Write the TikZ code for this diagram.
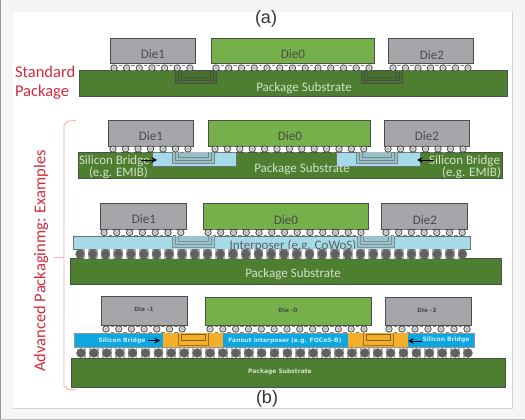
\documentclass[tikz,border=0pt]{standalone}
\usepackage{fontspec}
\setmainfont{Carlito}
\newfontfamily\smallsans{DejaVu Sans}
\newfontfamily\capfont{Liberation Sans}
\usetikzlibrary{arrows.meta}
\definecolor{diegray}{HTML}{A6A6AA}
\definecolor{diegreen}{HTML}{76B04B}
\definecolor{subgreen}{HTML}{4E7F30}
\definecolor{edgedark}{HTML}{4A4F4A}
\definecolor{interblue}{HTML}{A6DAE8}
\definecolor{bridgeblue}{HTML}{0CA6E0}
\definecolor{fanorange}{HTML}{F5AE2B}
\definecolor{labelred}{HTML}{D22B3F}
\definecolor{bracketred}{HTML}{F4B2A8}
\definecolor{sublabel}{HTML}{D3E0CB}
\definecolor{dielabel}{HTML}{4B4B4B}
\tikzset{
  px/.style={inner sep=0pt,outer sep=0pt},
  diebox/.style={draw=edgedark,line width=1pt},
  diegrey/.style={diebox,fill=diegray},
  diegrn/.style={diebox,fill=diegreen},
  subbox/.style={draw=edgedark,line width=1pt,fill=subgreen},
  interbox/.style={draw=edgedark!80,line width=0.9pt,fill=interblue},
  dietext/.style={px,text=dielabel,font=\fontsize{13}{14}\selectfont},
  subtext/.style={px,text=sublabel,font=\fontsize{13}{14}\selectfont},
  bridgetext/.style={px,text=sublabel,font=\fontsize{13}{13}\selectfont},
  redtext/.style={px,text=labelred,font=\fontsize{16.5}{18}\selectfont},
  advtext/.style={px,text=labelred,font=\fontsize{16.5}{18}\selectfont},
  captext/.style={px,text=black!80,font=\capfont\fontsize{18}{20}\selectfont},
  tinydie/.style={px,text=dielabel,font=\smallsans\bfseries\fontsize{5.8}{7}\selectfont},
  tinywhite/.style={px,text=white!80!bridgeblue,font=\smallsans\bfseries\fontsize{6}{7}\selectfont},
  tinysub/.style={px,text=sublabel,font=\smallsans\bfseries\fontsize{6}{7}\selectfont},
  blackarrow/.style={-{Stealth[length=5.5pt,width=5.5pt]},line width=0.9pt,black},
}
% filled rectangle from corners: name, style, x1,y1,x2,y2
\newcommand\boxat[6]{\path[#2] (#3,#4) rectangle (#5,#6); \coordinate (#1) at ({(#3+#5)/2},{(#4+#6)/2});}
% small bumps: x1, step, count, y
\newcommand\smallbumps[4]{%
  \pgfmathtruncatemacro\lastb{#3-1}%
  \foreach \i in {0,...,\lastb}{%
    \pgfmathsetmacro\xx{#1+\i*#2}%
    \draw[edgedark,line width=0.8pt,fill=white!85!black] (\xx,#4) circle (3.2pt);
    \fill[gray!60] (\xx,#4) circle (1.3pt);
    \ifnum\i<\lastb
      \fill[edgedark!70] ({\xx+#2/2-1.8},{#4-3.4}) rectangle ({\xx+#2/2+1.8},{#4-2.5});
      \fill[edgedark!70] ({\xx+#2/2-1.8},{#4+2.5}) rectangle ({\xx+#2/2+1.8},{#4+3.4});
    \fi
  }}
% big bumps: x1, step, count, y
\newcommand\bigbumps[4]{%
  \pgfmathtruncatemacro\lastb{#3-1}%
  \foreach \i in {0,...,\lastb}{%
    \pgfmathsetmacro\xx{#1+\i*#2}%
    \ifnum\i<\lastb
      \fill[gray!60] ({\xx+#2/2-3.5},{#4-4.6}) rectangle ({\xx+#2/2+3.5},{#4+4.6});
      \fill[white] ({\xx+#2/2-1.6},{#4-4.6}) rectangle ({\xx+#2/2+1.6},{#4+4.6});
    \fi
    \draw[edgedark!80,line width=0.6pt,fill=gray!75!black] (\xx,#4) circle (4.4pt);
  }}
% nested U routing: x1,x2,ytop,ybot,line colour,fill colour
\newcommand\routing[6]{%
  \fill[#6] (#1,#3) rectangle (#2,#4);
  \foreach \d in {0,3,6}{%
    \draw[#5,line width=0.7pt] ({#1+\d},#3) -- ({#1+\d},{#4-\d}) -- ({#2-\d},{#4-\d}) -- ({#2-\d},#3);
  }}
\begin{document}
\begin{tikzpicture}[x=1pt,y=-1pt]
\useasboundingbox (0,0) rectangle (525,420);
% page and panel
\fill[white!96!black] (0,0) rectangle (525,420);
\fill[white] (13,12) rectangle (512,408);
\draw[gray!35,line width=0.6pt] (13,408) -- (512,408) -- (512,12);
\fill[gray!80] (0,0) rectangle (1.2,420);
\fill[gray!50] (0,418.8) rectangle (525,420);
\node[captext] (capa) at (266,19) {(a)};
\node[captext] (capb) at (267,399) {(b)};
% ---- row a
\boxat{aDieOne}{diegrey}{110}{39}{195}{64}
\boxat{aDieZero}{diegrn}{211}{39}{374}{64}
\boxat{aDieTwo}{diegrey}{388}{39}{473}{64}
\boxat{aSub}{subbox}{79}{71}{507}{97}
\routing{175}{216}{71}{83}{edgedark}{subgreen!90!black}
\routing{361}{402}{71}{83}{edgedark}{subgreen!90!black}
\smallbumps{114}{12.65}{7}{68}
\smallbumps{216}{12.75}{13}{68}
\smallbumps{393}{12.5}{7}{68}
\node[dietext] (a1) at (153,54) {Die1};
\node[dietext] (a0) at (293,54) {Die0};
\node[dietext] (a2) at (432,55) {Die2};
\node[subtext] (asubt) at (304,88) {Package Substrate};
\node[redtext,anchor=west] (std) at (15,72) {Standard};
\node[redtext,anchor=west] (pkg) at (15,92) {Package};
% ---- row b1
\boxat{bDieOne}{diegrey}{108}{120}{193}{146}
\boxat{bDieZero}{diegrn}{208}{120}{370}{146}
\boxat{bDieTwo}{diegrey}{384}{120}{469}{146}
\boxat{bSub}{subbox}{78}{152}{502}{178}
\boxat{bBrL}{interbox}{152}{152}{236}{166}
\boxat{bBrR}{interbox}{336}{152}{420}{166}
\routing{172}{214}{152}{163}{edgedark!60!interblue}{interblue!70!gray}
\routing{356}{397}{152}{163}{edgedark!60!interblue}{interblue!70!gray}
\smallbumps{113}{12.5}{7}{149}
\smallbumps{215}{12.4}{13}{149}
\smallbumps{388}{12.5}{7}{149}
\node[dietext] (b1) at (151,136) {Die1};
\node[dietext] (b0) at (290,136) {Die0};
\node[dietext] (b2) at (427,136) {Die2};
\node[subtext] (bsubt) at (302,169) {Package Substrate};
\node[bridgetext,anchor=west] (bsl) at (79,161) {Silicon Bridge};
\node[bridgetext,anchor=west] (bel) at (89,173) {(e.g. EMIB)};
\node[bridgetext,anchor=east] (bsr) at (500,161) {Silicon Bridge};
\node[bridgetext,anchor=east] (ber) at (501,173) {(e.g. EMIB)};
\coordinate (btl) at (141,160); \coordinate (hl) at (157,160);
\coordinate (btr) at (434,160); \coordinate (hr) at (417,160);
\draw[blackarrow] (btl) -- (hl);
\draw[blackarrow] (btr) -- (hr);
% ---- row b2
\boxat{cDieOne}{diegrey}{100}{203}{186}{229}
\boxat{cDieZero}{diegrn}{203}{203}{368}{229}
\boxat{cDieTwo}{diegrey}{381}{203}{467}{229}
\boxat{cSub}{subbox}{70}{258}{501}{284}
\boxat{cInt}{interbox}{73}{236}{470}{249}
\routing{172}{214}{236}{247}{edgedark!50!interblue}{interblue!75!gray}
\routing{357}{394}{236}{247}{edgedark!50!interblue}{interblue!75!gray}
\node[px,text=dielabel!85!interblue,font=\fontsize{13}{14}\selectfont] (cintt) at (293,246) {Interposer (e.g. CoWoS)};
\bigbumps{80}{12.75}{31}{254}
\smallbumps{104}{12.8}{7}{232.5}
\smallbumps{208}{12.75}{13}{232.5}
\smallbumps{386}{12.7}{7}{232.5}
\node[dietext] (c1) at (144,219) {Die1};
\node[dietext] (c0) at (286,220) {Die0};
\node[dietext] (c2) at (425,220) {Die2};
\node[subtext] (csubt) at (293,274) {Package Substrate};
% ---- row b3
\boxat{dDieOne}{diegrey}{101}{296}{187}{325}
\boxat{dDieZero}{diegrn}{205}{297}{371}{325}
\boxat{dDieTwo}{diegrey}{385}{297}{471}{325}
\boxat{dSub}{subbox}{71}{358}{505}{387}
\path[draw=edgedark!60,line width=0.7pt,fill=bridgeblue] (74,333) rectangle (474,347);
\coordinate (dInt) at (274,340);
\boxat{dOrL}{fill=fanorange}{163}{333}{223}{347}
\boxat{dOrR}{fill=fanorange}{348}{333}{408}{347}
\foreach \a/\b in {178/208,363/393}{%
  \draw[black!35!fanorange,line width=0.6pt] (\a,333) -- (\a,345) -- (\b,345) -- (\b,333);
  \draw[black!45!fanorange,line width=0.7pt] ({\a+3},334) rectangle ({\b-3},340);
}
\bigbumps{81}{12.9}{31}{353}
\smallbumps{106}{12.7}{7}{329}
\smallbumps{210}{12.83}{13}{329}
\smallbumps{389}{13}{7}{329}
\node[tinydie] (d1) at (144,309) {Die -1};
\node[tinydie] (d0) at (288,310) {Die -0};
\node[tinydie] (d2) at (427,310) {Die -2};
\node[tinysub] (dsubt) at (280,372) {Package Substrate};
\node[tinywhite] (dsl) at (122,341) {Silicon Bridge};
\node[tinywhite] (dsr) at (446,340) {Silicon Bridge};
\node[tinywhite] (dft) at (285,341) {Fanout interposer (e.g. FOCoS-B)};
\coordinate (dtl) at (148,340.5); \coordinate (dhl) at (160,340.5);
\coordinate (dtr) at (422,341); \coordinate (dhr) at (408,341);
\draw[blackarrow] (dtl) -- (dhl);
\draw[blackarrow] (dtr) -- (dhr);
% ---- bracket
\coordinate (brTop) at (76,120.5); \coordinate (brBot) at (76,390);
\coordinate (brTip) at (54,257); \coordinate (brMid) at (64,257);
\draw[bracketred,line width=0.9pt] (brTop) -- (68,121) -- (64,125) -- (64,386) -- (67,389) -- (brBot);
\draw[bracketred,line width=0.9pt] (brTip) -- (brMid);
\node[advtext,rotate=90] (adv) at (41,261) {Advanced Packaginmg: Examples};
\end{tikzpicture}
\end{document}
